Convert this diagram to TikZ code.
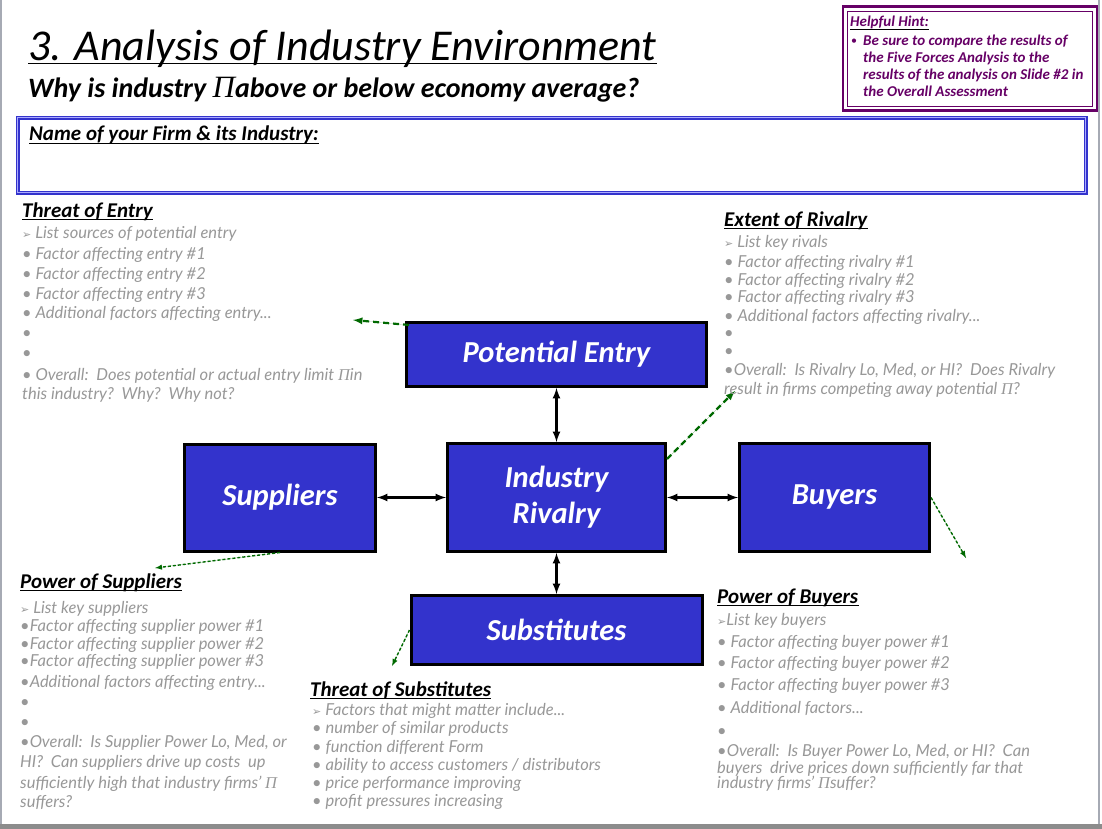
\documentclass[tikz,border=0pt]{standalone}
\usepackage{fontspec}
\setmainfont{Carlito}
\newfontfamily\bodyfont{Lato}
\newfontfamily\symfont{DejaVu Sans}
\newfontfamily\pifont{Liberation Serif}
\usetikzlibrary{positioning,calc,arrows}

\definecolor{forceblue}{RGB}{51,51,204}
\definecolor{hintgreen}{RGB}{0,105,0}
\definecolor{hintpurple}{RGB}{102,0,102}
\definecolor{bodygray}{RGB}{152,152,152}
\definecolor{namelight}{RGB}{170,170,255}
\definecolor{framegray}{RGB}{166,170,180}

\newcommand\arrbul{{\symfont\fontsize{11}{11}\selectfont\char"27A2}}
\newcommand\piglyph{{\pifont\mdseries\itshape Π}}

\tikzset{force/.style={draw=black, line width=3pt, fill=forceblue, text=white,
    font=\fontsize{30.5}{36}\selectfont\bfseries\itshape, align=center, inner sep=0pt},
    underlined/.style 2 args={append after command={
        [line width=#1, draw=#2]
        ([yshift=-2.5pt]\tikzlastnode.base west) edge ([yshift=-2.5pt]\tikzlastnode.base east)
        }
    }
}
\tikzstyle{link} = [<->, >=latex, line width=2.5pt]
\tikzstyle{pointer} = [->, >=latex, draw=hintgreen, fill=hintgreen, line width=2.2pt, dash pattern=on 6pt off 4pt]
\tikzstyle{thinpointer} = [->, >=latex, draw=hintgreen, fill=hintgreen, line width=1.4pt, dash pattern=on 3pt off 2pt]
\tikzstyle{heading} = [anchor=base west, inner sep=0pt, font=\fontsize{21}{25}\selectfont\bfseries\itshape, underlined={1.4pt}{black}]
\tikzstyle{body} = [anchor=base west, inner sep=0pt, text=bodygray, font=\bodyfont\fontsize{16.5}{20}\selectfont\itshape]
\tikzstyle{hinttext} = [anchor=base west, inner sep=0pt, text=hintpurple, font=\fontsize{15}{17}\selectfont\bfseries\itshape]

\begin{document}
\begin{tikzpicture}[x=1pt, y=-1pt]
    \fill[white] (0,0) rectangle (1102,829);
    \useasboundingbox (0,0) rectangle (1102,829);
    % slide frame
    \draw[framegray, line width=2pt] (1,0) -- (1,824);
    \draw[framegray, line width=2pt] (1099,0) -- (1099,824);
    \fill[black!45] (0,824) rectangle (1102,829);

    % title area
    \node[anchor=base west, inner sep=0pt, font=\fontsize{44}{50}\selectfont\itshape,
        underlined={2.2pt}{black}] (title) at (28,61) {3. Analysis of Industry Environment};
    \node[anchor=base west, inner sep=0pt, font=\fontsize{28}{32}\selectfont\bfseries\itshape] (question) at (28,98)
        {Why is industry {\fontsize{31}{32}\selectfont\piglyph}above or below economy average?};

    \node[draw=forceblue, line width=1.2pt, double=namelight, double distance=1.6pt,
        minimum width=1068pt, minimum height=75pt, anchor=north west] (namebox) at (17,117) {};
    \node[anchor=base west, inner sep=0pt, font=\fontsize{21}{24}\selectfont\bfseries\itshape,
        underlined={1.3pt}{black}] (firmlabel) at (29,141) {Name of your Firm \& its Industry:};

    % hint
    \node[draw=hintpurple, line width=2.5pt, minimum width=254pt, minimum height=104pt,
        anchor=north west, inner sep=0pt] (hintbox) at (841.5,5.5) {};
    \node[draw=hintpurple, line width=1pt, minimum width=245pt, minimum height=95pt] (hintinner) at (hintbox.center) {};
    \node[hinttext, underlined={1pt}{hintpurple}] (hinttitle) at (850,27) {Helpful Hint:};
    \node[hinttext, font=\fontsize{12}{17}\selectfont] (hintdot) at (851,45) {\textbullet};
    \foreach \y/\t [count=\i] in {46/{Be sure to compare the results of}, 63/{the Five Forces Analysis to the},
        80/{results of the analysis on Slide \#2 in}, 97/{the Overall Assessment}}
        \node[hinttext] (hint\i) at (863,\y) {\t};

    % five forces
    \node[force, minimum width=218pt, minimum height=108pt] (IR) at (556.5,497.5) {Industry\\Rivalry};
    \node[force, minimum width=300pt, minimum height=64pt, above=54pt of IR] (PE) {Potential Entry};
    \node[force, minimum width=191pt, minimum height=107pt, left=69pt of IR] (Sup) {Suppliers};
    \node[force, minimum width=190pt, minimum height=108pt, right=71pt of IR] (Buy) {Buyers};
    \node[force, minimum width=291pt, minimum height=69pt, below=41pt of IR] (Sub) {Substitutes};

    \draw[link] (PE) -- (IR);
    \draw[link] (IR) -- (Sub);
    \draw[link] (Sup) -- (IR);
    \draw[link] (IR) -- (Buy);

    % pointers to the notes
    \coordinate (entrytip) at (353,320);
    \coordinate (rivalrytip) at (735,391);
    \coordinate (suppliertip) at (155,568);
    \coordinate (substip) at (392,666);
    \coordinate (buyertip) at (966,558);
    \draw[pointer] ([shift={(4pt,-4pt)}]PE.north west) -- (entrytip);
    \draw[pointer] ([yshift=-17pt]IR.north east) -- (rivalrytip);
    \draw[thinpointer] (Sup.south) -- (suppliertip);
    \draw[thinpointer] (Sub.west) -- (substip);
    \draw[thinpointer] (Buy.east) -- (buyertip);

    % threat of entry
    \node[heading] (entryhead) at (22,217) {Threat of Entry};
    \foreach \y/\t [count=\i] in {238/{\arrbul\ List sources of potential entry},
        259/{\textbullet\ Factor affecting entry \#1}, 279/{\textbullet\ Factor affecting entry \#2},
        299/{\textbullet\ Factor affecting entry \#3}, 318/{\textbullet\ Additional factors affecting entry...},
        338/{\textbullet}, 358/{\textbullet},
        380/{\textbullet\ Overall:\ \ Does potential or actual entry limit \piglyph in},
        399/{this industry?\ \ Why?\ \ Why not?}}
        \node[body] (entry\i) at (22,\y) {\t};

    % extent of rivalry
    \node[heading] (rivalryhead) at (724,226) {Extent of Rivalry};
    \foreach \y/\t [count=\i] in {247/{\arrbul\ List key rivals},
        267/{\textbullet\ Factor affecting rivalry \#1}, 285/{\textbullet\ Factor affecting rivalry \#2},
        302/{\textbullet\ Factor affecting rivalry \#3}, 321/{\textbullet\ Additional factors affecting rivalry...},
        338/{\textbullet}, 356/{\textbullet},
        375/{\textbullet Overall:\ \ Is Rivalry Lo, Med, or HI?\ \ Does Rivalry},
        394/{result in firms competing away potential \piglyph?}}
        \node[body] (rivalry\i) at (724,\y) {\t};

    % power of suppliers
    \node[heading] (supplierhead) at (20,588) {Power of Suppliers};
    \foreach \y/\t [count=\i] in {613/{\arrbul\ List key suppliers},
        631/{\textbullet Factor affecting supplier power \#1}, 649/{\textbullet Factor affecting supplier power \#2},
        666/{\textbullet Factor affecting supplier power \#3}, 687/{\textbullet Additional factors affecting entry...},
        707/{\textbullet}, 727/{\textbullet},
        747/{\textbullet Overall:\ \ Is Supplier Power Lo, Med, or},
        767/{HI?\ \ Can suppliers drive up costs\ \ up},
        788/{sufficiently high that industry firms’ \piglyph},
        807/{suffers?}}
        \node[body] (supplier\i) at (20,\y) {\t};

    % threat of substitutes
    \node[heading] (subshead) at (310,696) {Threat of Substitutes};
    \foreach \y/\t [count=\i] in {715/{\arrbul\ Factors that might matter include...},
        733/{\textbullet\ number of similar products}, 752/{\textbullet\ function different Form},
        770/{\textbullet\ ability to access customers / distributors},
        788/{\textbullet\ price performance improving}, 806/{\textbullet\ profit pressures increasing}}
        \node[body] (subs\i) at (312,\y) {\t};

    % power of buyers
    \node[heading] (buyerhead) at (717,603) {Power of Buyers};
    \foreach \y/\t [count=\i] in {625/{\arrbul List key buyers},
        647/{\textbullet\ Factor affecting buyer power \#1}, 668/{\textbullet\ Factor affecting buyer power \#2},
        690/{\textbullet\ Factor affecting buyer power \#3}, 713/{\textbullet\ Additional factors...},
        736/{\textbullet},
        756/{\textbullet Overall:\ \ Is Buyer Power Lo, Med, or HI?\ \ Can},
        773/{buyers\ \ drive prices down sufficiently far that},
        788/{industry firms’ \piglyph suffer?}}
        \node[body] (buyer\i) at (717,\y) {\t};
\end{tikzpicture}
\end{document}
